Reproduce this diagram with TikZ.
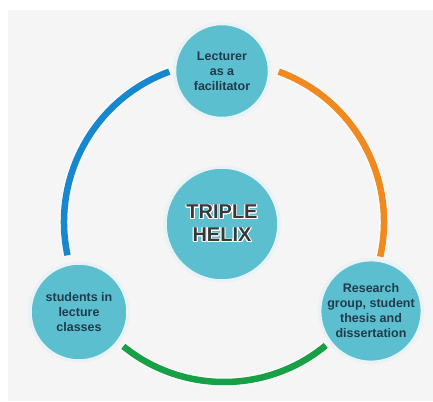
\documentclass[tikz,border=0pt]{standalone}
\usepackage{fontspec}
\setmainfont{Liberation Sans}
\usepackage{contour}
\contourlength{0.9pt}
\definecolor{bg}{HTML}{F5F5F5}
\definecolor{teal}{HTML}{5CBFD0}
\definecolor{halo}{HTML}{E9F2F4}
\definecolor{ink}{HTML}{1F3B4C}
\definecolor{core}{HTML}{383838}
\definecolor{ringblue}{HTML}{1787D0}
\definecolor{ringorange}{HTML}{F0891E}
\definecolor{ringgreen}{HTML}{18A047}
\tikzset{
  bubble/.style={circle, fill=teal, draw=halo, line width=3.5pt, inner sep=0pt,
    align=center, text=ink, font=\bfseries\fontsize{12.5}{15}\selectfont},
  band/.style={line width=6.5pt, line cap=butt},
  bandhalo/.style={line width=9.5pt, line cap=butt, white!60!bg},
}
\begin{document}
\begin{tikzpicture}[x=1pt, y=-1pt]
  % page and panel
  \fill[white] (0,0) rectangle (433,401);
  \fill[bg] (8,10) rectangle (433,401);
  \useasboundingbox (0,0) rectangle (433,401);

  % ring centre
  \coordinate (c) at (224,222);

  % coloured bands of the ring
  \draw[bandhalo] (c) ++(168:160) arc[start angle=168, end angle=250, radius=160];
  \draw[bandhalo] (c) ++(-70:160) arc[start angle=-70, end angle=12.5, radius=160];
  \draw[bandhalo] (c) ++(50.5:160) arc[start angle=50.5, end angle=129, radius=160];
  \draw[band, ringblue] (c) ++(168:160) arc[start angle=168, end angle=250, radius=160];
  \draw[band, ringorange] (c) ++(-70:160) arc[start angle=-70, end angle=12.5, radius=160];
  \draw[band, ringgreen] (c) ++(50.5:160) arc[start angle=50.5, end angle=129, radius=160];

  % outer bubbles
  \node[bubble, minimum size=95pt] (lect) at (222,71) {Lecturer\\as a\\facilitator};
  \node[bubble, minimum size=98pt] (stud) at (79,312) {students in\\lecture\\classes};
  \node[bubble, minimum size=99pt] (res) at (371,311) {Research\\group, student\\thesis and\\dissertation};

  % central bubble, title set with a white rim
  \node[bubble, minimum size=114pt, text=core,
        font=\bfseries\fontsize{20}{23}\selectfont] (core) at (222,224)
        {\contour{white}{TRIPLE}\\\contour{white}{HELIX}};
\end{tikzpicture}
\end{document}
